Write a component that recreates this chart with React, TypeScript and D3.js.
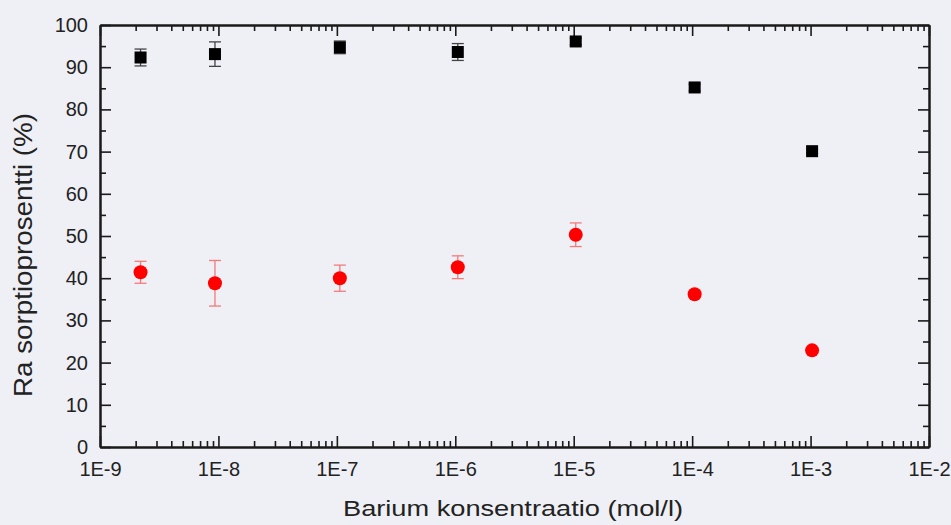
import React, { useEffect, useRef } from 'react';
import * as d3 from 'd3';

// Barium concentration (mol/l), same for both series
const concentrations = [2.2e-9, 9.35e-9, 1.06e-7, 1.05e-6, 1.04e-5, 1.05e-4, 1.03e-3];
// black squares
const blackValues = [92.3, 93.1, 94.7, 93.6, 96.1, 85.2, 70.1];
const blackErrors = [2.0, 2.9, 1.5, 2.0, 0.8, 0.8, 0.5];
// red circles
const redValues = [41.4, 38.8, 40.0, 42.6, 50.3, 36.2, 22.9];
const redErrors = [2.6, 5.4, 3.1, 2.7, 2.8, 0.8, 0.5];

const xMajorTicks = [1e-9, 1e-8, 1e-7, 1e-6, 1e-5, 1e-4, 1e-3, 1e-2];
const xTickLabels = ['1E-9', '1E-8', '1E-7', '1E-6', '1E-5', '1E-4', '1E-3', '1E-2'];
const yMajorTicks = [0, 10, 20, 30, 40, 50, 60, 70, 80, 90, 100];

const xTitle = 'Barium konsentraatio (mol/l)';
const yTitle = 'Ra sorptioprosentti (%)';

function App() {
  const ref = useRef<SVGSVGElement>(null);

  useEffect(() => {
    const svg = d3.select(ref.current);
    svg.selectAll('*').remove();

    const width = 951;
    const height = 525;
    const margin = { top: 25, left: 100, bottom: 78, right: 22 };
    const iwidth = width - margin.left - margin.right;
    const iheight = height - margin.top - margin.bottom;
    const font = 'Liberation Sans, Arial, sans-serif';
    const axisColor = '#1a1a1a';
    const major = 11;
    const minor = 6;

    svg.append('rect').attr('width', width).attr('height', height).attr('fill', '#eff0f5');

    const g = svg.append('g').attr('transform', `translate(${margin.left},${margin.top})`);

    const x = d3.scaleLog().domain([1e-9, 1e-2]).range([0, iwidth]);
    const y = d3.scaleLinear().domain([0, 100]).range([iheight, 0]);

    const minorX = x.ticks().filter((t) => !xMajorTicks.some((m) => Math.abs(m - t) / m < 1e-6));
    const minorY = d3.range(5, 100, 10);

    const styleAxis = (sel: any, showText: boolean) => {
      sel.select('.domain').attr('stroke', axisColor).attr('stroke-width', 2);
      sel.selectAll('.tick line').attr('stroke', axisColor).attr('stroke-width', 1.6);
      sel.selectAll('.tick text')
        .attr('fill', '#222')
        .style('font-family', font)
        .style('font-size', '20px')
        .style('display', showText ? null : 'none');
    };

    const fmt = (d: any) => xTickLabels[xMajorTicks.findIndex((m) => Math.abs(m - d) / m < 1e-6)];

    // bottom axis
    g.append('g').attr('transform', `translate(0,${iheight})`)
      .call(d3.axisBottom(x).tickValues(minorX).tickSize(-minor).tickFormat(() => '').tickSizeOuter(0))
      .call((s) => styleAxis(s, false));
    g.append('g').attr('transform', `translate(0,${iheight})`)
      .call(d3.axisBottom(x).tickValues(xMajorTicks).tickSize(-major).tickPadding(15).tickFormat(fmt).tickSizeOuter(0))
      .call((s) => styleAxis(s, true));
    // top axis
    g.append('g')
      .call(d3.axisTop(x).tickValues(minorX).tickSize(-minor).tickFormat(() => '').tickSizeOuter(0))
      .call((s) => styleAxis(s, false));
    g.append('g')
      .call(d3.axisTop(x).tickValues(xMajorTicks).tickSize(-major).tickFormat(() => '').tickSizeOuter(0))
      .call((s) => styleAxis(s, false));
    // left axis
    g.append('g')
      .call(d3.axisLeft(y).tickValues(minorY).tickSize(-minor).tickFormat(() => '').tickSizeOuter(0))
      .call((s) => styleAxis(s, false));
    g.append('g')
      .call(d3.axisLeft(y).tickValues(yMajorTicks).tickSize(-major).tickPadding(12).tickSizeOuter(0))
      .call((s) => styleAxis(s, true));
    // right axis
    g.append('g').attr('transform', `translate(${iwidth},0)`)
      .call(d3.axisRight(y).tickValues(minorY).tickSize(-minor).tickFormat(() => '').tickSizeOuter(0))
      .call((s) => styleAxis(s, false));
    g.append('g').attr('transform', `translate(${iwidth},0)`)
      .call(d3.axisRight(y).tickValues(yMajorTicks).tickSize(-major).tickFormat(() => '').tickSizeOuter(0))
      .call((s) => styleAxis(s, false));

    const series = [
      { values: blackValues, errors: blackErrors, color: '#000', errColor: '#444', shape: 'square' },
      { values: redValues, errors: redErrors, color: '#ff0000', errColor: '#f47a7a', shape: 'circle' },
    ];

    series.forEach((s) => {
      const data = concentrations.map((c, i) => ({ c, v: s.values[i], e: s.errors[i] }));
      const eg = g.append('g').attr('stroke', s.errColor).attr('stroke-width', 1.3).attr('fill', 'none');
      data.forEach((d) => {
        const cx = x(d.c);
        const y0 = y(d.v + d.e);
        const y1 = y(d.v - d.e);
        eg.append('line').attr('x1', cx).attr('x2', cx).attr('y1', y0).attr('y2', y1);
        eg.append('line').attr('x1', cx - 6).attr('x2', cx + 6).attr('y1', y0).attr('y2', y0);
        eg.append('line').attr('x1', cx - 6).attr('x2', cx + 6).attr('y1', y1).attr('y2', y1);
      });
      if (s.shape === 'square') {
        g.append('g').selectAll('rect').data(data).enter().append('rect')
          .attr('x', (d) => x(d.c) - 6)
          .attr('y', (d) => y(d.v) - 6)
          .attr('width', 12)
          .attr('height', 12)
          .attr('fill', s.color);
      } else {
        g.append('g').selectAll('circle').data(data).enter().append('circle')
          .attr('cx', (d) => x(d.c))
          .attr('cy', (d) => y(d.v))
          .attr('r', 7)
          .attr('fill', s.color);
      }
    });

    svg.append('text')
      .attr('x', 513)
      .attr('y', 516)
      .attr('text-anchor', 'middle')
      .attr('fill', '#222')
      .attr('textLength', 340)
      .attr('lengthAdjust', 'spacingAndGlyphs')
      .style('font-family', font)
      .style('font-size', '22px')
      .text(xTitle);

    svg.append('text')
      .attr('transform', 'translate(32,255) rotate(-90)')
      .attr('text-anchor', 'middle')
      .attr('fill', '#222')
      .attr('textLength', 284)
      .attr('lengthAdjust', 'spacingAndGlyphs')
      .style('font-family', font)
      .style('font-size', '26px')
      .text(yTitle);
  }, []);

  return (
    <svg ref={ref} width={951} height={525} style={{ position: 'absolute', left: 0, top: 0, display: 'block' }} />
  );
}

export default App;
